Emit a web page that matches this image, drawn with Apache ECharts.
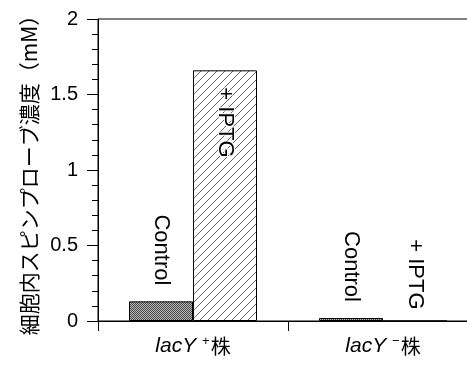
<!DOCTYPE html>
<html>
<head>
<meta charset="utf-8">
<script src="https://cdn.jsdelivr.net/npm/echarts@6/dist/echarts.min.js"></script>
<style>
  html, body { margin: 0; padding: 0; background: #fff; }
  #chart { width: 467px; height: 367px; }
</style>
</head>
<body>
<div id="chart"></div>
<script>
// Strains on the x axis and intracellular spin-probe concentration (mM)
const strains = ['+', '−'];            // lacY superscript for each strain
const seriesNames = ['Control', '+ IPTG'];
const controlValues = [0.13, 0.02];
const iptgValues = [1.66, 0.0];
const yTicks = { min: 0, max: 2, interval: 0.5 };
const yTitle = '細胞内スピンプローブ濃度（mM）';

const LATIN = '"Liberation Sans Narrow", "Liberation Sans", Arial, sans-serif';
const LATIN_W = '"Liberation Sans", Arial, sans-serif';
const CJK = '"Noto Sans CJK JP", sans-serif';

// Fill textures: stippled grey for the control bars, diagonal hatching for IPTG
function stipple() {
  const c = document.createElement('canvas');
  c.width = 2; c.height = 2;
  const g = c.getContext('2d');
  g.fillStyle = '#b4b4b4'; g.fillRect(0, 0, 2, 2);
  g.fillStyle = '#4a4a4a'; g.fillRect(0, 0, 1, 1); g.fillRect(1, 1, 1, 1);
  return c;
}
function hatch() {
  const s = 8;
  const c = document.createElement('canvas');
  c.width = s; c.height = s;
  const g = c.getContext('2d');
  g.fillStyle = '#fff'; g.fillRect(0, 0, s, s);
  g.strokeStyle = '#555'; g.lineWidth = 0.9;
  g.beginPath();
  g.moveTo(-1, s + 1); g.lineTo(s + 1, -1);
  g.moveTo(-1, 1); g.lineTo(1, -1);
  g.moveTo(s - 1, s + 1); g.lineTo(s + 1, s - 1);
  g.stroke();
  return c;
}

const chart = echarts.init(document.getElementById('chart'), null, { renderer: 'canvas' });

const rotatedLabel = {
  show: true,
  rotate: -90,
  color: '#000',
  fontFamily: LATIN,
  fontSize: 22,
  verticalAlign: 'middle',
  formatter: p => p.seriesName
};

chart.setOption({
  animation: false,
  backgroundColor: '#fff',
  grid: {
    left: 98, top: 19, bottom: 46, width: 380,
    outerBoundsMode: 'none', containLabel: false,
    show: true, borderColor: '#000', borderWidth: 1, backgroundColor: 'transparent'
  },
  xAxis: {
    type: 'category',
    data: strains,
    axisLine: { lineStyle: { color: '#000', width: 1 } },
    axisTick: { show: true, length: 10, lineStyle: { color: '#000' } },
    axisLabel: {
      margin: 14,
      formatter: v => '{i|lacY }{s|' + v + '}{k|株}',
      rich: {
        i: { fontFamily: LATIN, fontStyle: 'italic', fontSize: 21, color: '#000' },
        s: { fontFamily: LATIN_W, fontSize: 13, color: '#000', padding: [0, 1, 9, 0] },
        k: { fontFamily: CJK, fontSize: 20, color: '#000' }
      }
    }
  },
  yAxis: {
    type: 'value',
    min: yTicks.min, max: yTicks.max, interval: yTicks.interval,
    name: yTitle,
    nameLocation: 'middle',
    nameGap: 58,
    nameTextStyle: { fontFamily: CJK, fontSize: 21, color: '#000' },
    axisLine: { show: true, lineStyle: { color: '#000', width: 1 } },
    axisTick: { show: true, length: 11, lineStyle: { color: '#000' } },
    minorTick: { show: true, splitNumber: 5, length: 6, lineStyle: { color: '#000' } },
    splitLine: { show: false },
    axisLabel: { margin: 20, fontFamily: LATIN_W, fontSize: 20, color: '#000' }
  },
  series: [
    {
      name: seriesNames[0],
      type: 'bar',
      barWidth: 64,
      barGap: '0%',
      itemStyle: { color: { image: stipple(), repeat: 'repeat' }, borderColor: '#000', borderWidth: 1 },
      label: Object.assign({}, rotatedLabel, { position: 'top', align: 'right', distance: 16 }),
      data: controlValues
    },
    {
      name: seriesNames[1],
      type: 'bar',
      barWidth: 64,
      barGap: '0%',
      itemStyle: { color: { image: hatch(), repeat: 'repeat' }, borderColor: '#000', borderWidth: 1 },
      data: iptgValues.map(v => ({
        value: v,
        label: v > 0.5
          ? Object.assign({}, rotatedLabel, { position: 'insideTop', align: 'left', distance: 17,
              textBorderColor: '#fff', textBorderWidth: 2 })
          : Object.assign({}, rotatedLabel, { position: 'top', align: 'right', distance: 11 })
      }))
    }
  ]
});
</script>
</body>
</html>
